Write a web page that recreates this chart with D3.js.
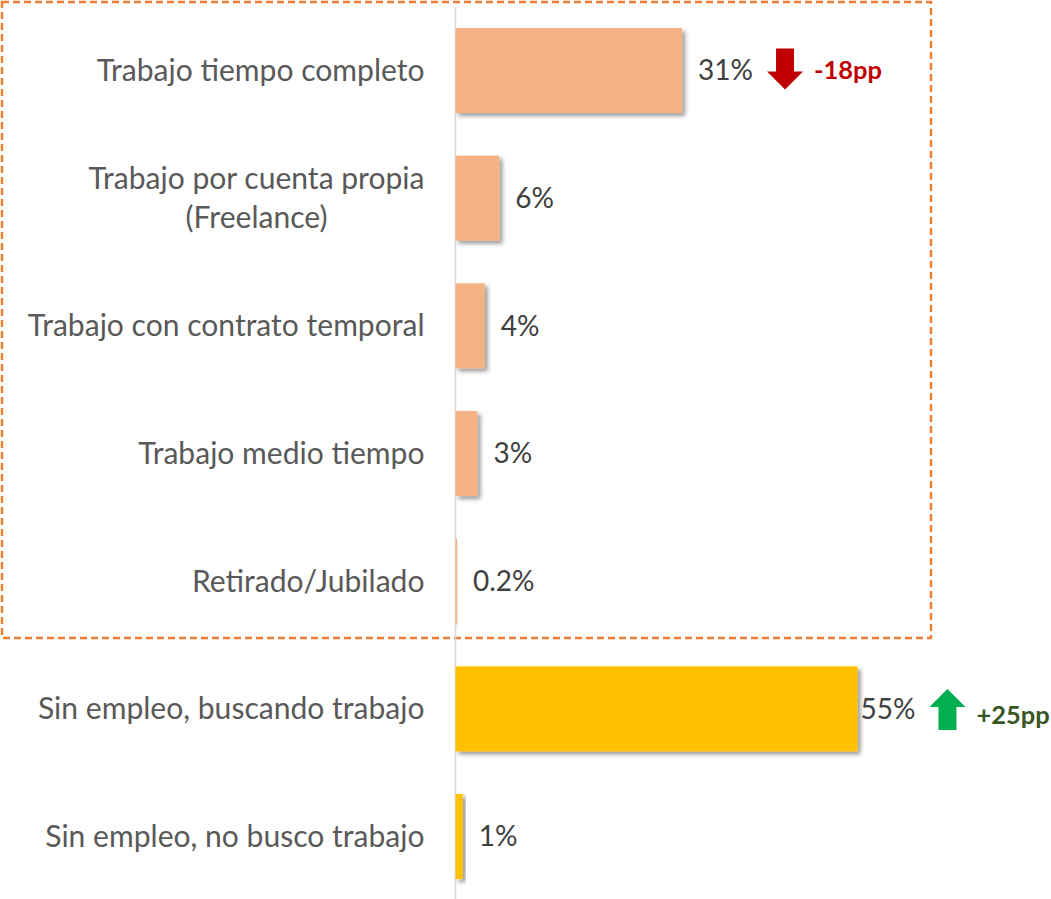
<!DOCTYPE html>
<html><head><meta charset="utf-8">
<script src="https://cdn.jsdelivr.net/npm/d3@7/dist/d3.min.js"></script>
<style>html,body{margin:0;padding:0;background:#fff;}svg{display:block;}</style>
</head><body>
<script>
const categories = [
  "Trabajo tiempo completo",
  "Trabajo por cuenta propia\n(Freelance)",
  "Trabajo con contrato temporal",
  "Trabajo medio tiempo",
  "Retirado/Jubilado",
  "Sin empleo, buscando trabajo",
  "Sin empleo, no busco trabajo"
];
const values = [31, 6, 4, 3, 0.2, 55, 1];
const valueLabels = ["31%", "6%", "4%", "3%", "0.2%", "55%", "1%"];
const groups = ["empleado","empleado","empleado","empleado","empleado","sin","sin"];
const changeCategories = ["Trabajo tiempo completo", "Sin empleo, buscando trabajo"];
const changeValues = [-18, 25];

const W = 1051, H = 899;
const svg = d3.select("body").append("svg").attr("width", W).attr("height", H);
const defs = svg.append("defs");
const f = defs.append("filter").attr("id","sh").attr("x","-20%").attr("y","-20%").attr("width","150%").attr("height","150%");
f.append("feDropShadow").attr("dx",3).attr("dy",3).attr("stdDeviation",2.2).attr("flood-color","#000").attr("flood-opacity",0.4);

const FONT = "Lato, 'Open Sans', sans-serif";
const x = d3.scaleLinear().domain([0, 55]).range([455.5, 857.5]);
const y = d3.scaleBand().domain(categories).range([6.67, 900.4]).paddingInner(0.3342).paddingOuter(0.1671);
const color = d3.scaleOrdinal().domain(["empleado","sin"]).range(["#F4B183","#FFC000"]);

// dashed box
svg.append("rect").attr("x",2).attr("y",2).attr("width",929).attr("height",636)
  .attr("fill","none").attr("stroke","#ED7D31").attr("stroke-width",2.4).attr("stroke-dasharray","7,4");

// axis line
const yAxis = d3.axisLeft(y).tickSize(0).tickFormat("");
const ax = svg.append("g").attr("transform", `translate(${x(0)},0)`).call(yAxis);
ax.select(".domain").attr("stroke","#D9D9D9").attr("stroke-width",1.5).attr("d","M0,7V899");

// font sizes fitted to the reference text widths
function fit(txt, target, bold) {
  const p = svg.append("text").attr("font-family",FONT).attr("font-size",32)
    .attr("font-weight", bold ? "bold" : "normal").text(txt);
  const s = 32 * target / p.node().getComputedTextLength();
  p.remove();
  return s;
}
const fs = fit("Trabajo tiempo completo", 328);
const fsv = fit("31%", 55);
const fsb = fit("-18pp", 68, true);

// bars
svg.append("g").selectAll("rect").data(categories).join("rect")
  .attr("x", x(0)).attr("y", d => y(d))
  .attr("width", (d,i) => Math.max(1.2, x(values[i]) - x(0)))
  .attr("height", y.bandwidth())
  .attr("fill", (d,i) => color(groups[i]))
  .attr("filter","url(#sh)");

// category labels (multi-line labels centred within a right-aligned block)
const labelRight = x(0) - 31;
const lineH = 1.28;
const cl = svg.append("g").selectAll("text").data(categories).join("text")
  .attr("font-family",FONT).attr("font-size",fs).attr("fill","#595959")
  .attr("y", d => y(d) + y.bandwidth()/2);
cl.each(function(d){
  const lines = d.split("\n");
  const t = d3.select(this);
  if (lines.length === 1) {
    t.attr("text-anchor","end").attr("x", labelRight).attr("dy","0.35em").text(d);
    return;
  }
  let maxW = 0;
  lines.forEach(ln => {
    const p = svg.append("text").attr("font-family",FONT).attr("font-size",fs).text(ln);
    maxW = Math.max(maxW, p.node().getComputedTextLength()); p.remove();
  });
  const cx = labelRight - maxW/2;
  t.attr("text-anchor","middle");
  lines.forEach((ln,k) => {
    t.append("tspan").attr("x", cx)
      .attr("dy", k === 0 ? ((0.35 - (lines.length-1)*lineH/2) + "em") : lineH + "em").text(ln);
  });
});

// value labels
const maxV = d3.max(values);
const vl = svg.append("g").selectAll("text").data(categories).join("text")
  .attr("font-family",FONT).attr("font-size",fsv).attr("fill","#404040")
  .attr("x", (d,i) => x(values[i]) + (values[i] === maxV ? 3 : 16))
  .attr("y", d => y(d) + y.bandwidth()/2).attr("dy","0.35em")
  .text((d,i) => valueLabels[i]);

// change annotations
changeCategories.forEach((c, k) => {
  const i = categories.indexOf(c);
  const node = vl.nodes()[i];
  const bb = node.getBBox();
  const ax0 = bb.x + bb.width + 14;
  const cy = y(c) + y.bandwidth()/2;
  const down = changeValues[k] < 0;
  const w = 36, sw = 18, h = 41, hh = 18;
  const cx = ax0 + w/2;
  let pts;
  if (down) {
    const top = cy - 22;
    pts = [[cx-sw/2,top],[cx+sw/2,top],[cx+sw/2,top+h-hh],[cx+w/2,top+h-hh],[cx,top+h],[cx-w/2,top+h-hh],[cx-sw/2,top+h-hh]];
  } else {
    const top = cy - 20;
    pts = [[cx,top],[cx+w/2,top+hh],[cx+sw/2,top+hh],[cx+sw/2,top+h],[cx-sw/2,top+h],[cx-sw/2,top+hh],[cx-w/2,top+hh]];
  }
  svg.append("path").attr("d", d3.line()(pts) + "Z").attr("fill", down ? "#C00000" : "#00B050");
  svg.append("text").attr("font-family",FONT).attr("font-weight","bold")
    .attr("font-size", fsb).attr("fill", down ? "#C00000" : "#375623")
    .attr("x", ax0 + w + 11).attr("y", cy + (down ? 0 : 6)).attr("dy","0.35em")
    .text((changeValues[k] > 0 ? "+" : "") + changeValues[k] + "pp");
});
</script>
</body></html>
